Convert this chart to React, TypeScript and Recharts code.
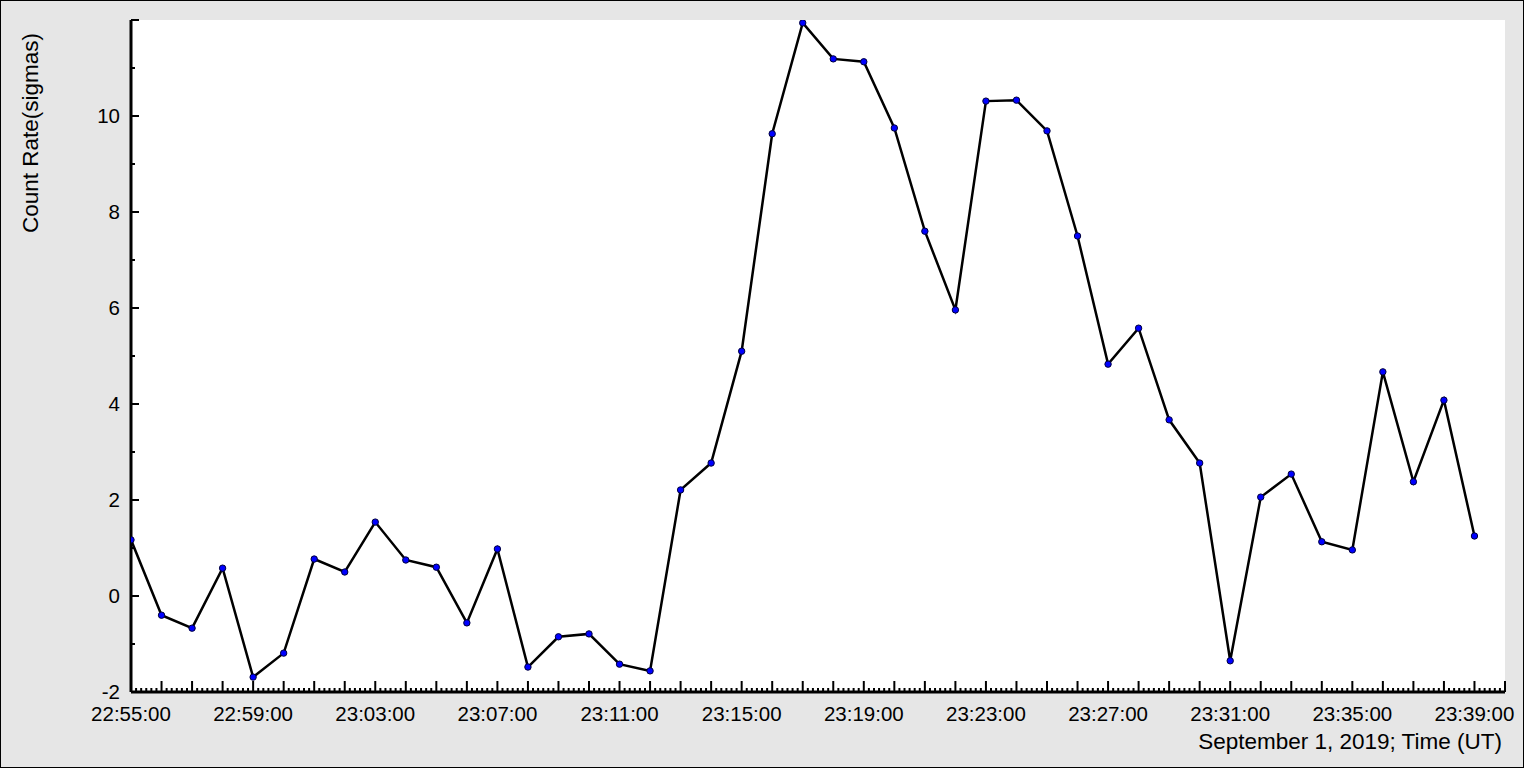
import React from "react";
import { LineChart, Line, XAxis, YAxis, CartesianGrid } from "recharts";

// Sample times (UT) and count-rate values (sigmas)
const times: string[] = [
  "22:55:00", "22:56:00", "22:57:00", "22:58:00", "22:59:00", "23:00:00", "23:01:00", "23:02:00",
  "23:03:00", "23:04:00", "23:05:00", "23:06:00", "23:07:00", "23:08:00", "23:09:00", "23:10:00",
  "23:11:00", "23:12:00", "23:13:00", "23:14:00", "23:15:00", "23:16:00", "23:17:00", "23:18:00",
  "23:19:00", "23:20:00", "23:21:00", "23:22:00", "23:23:00", "23:24:00", "23:25:00", "23:26:00",
  "23:27:00", "23:28:00", "23:29:00", "23:30:00", "23:31:00", "23:32:00", "23:33:00", "23:34:00",
  "23:35:00", "23:36:00", "23:37:00", "23:38:00", "23:39:00",
];

const countRate: number[] = [
  1.17, -0.40, -0.67, 0.58, -1.69, -1.19, 0.77, 0.50,
  1.54, 0.75, 0.60, -0.56, 0.98, -1.48, -0.85, -0.79,
  -1.42, -1.56, 2.21, 2.77, 5.10, 9.63, 11.94, 11.19,
  11.13, 9.75, 7.60, 5.96, 10.31, 10.33, 9.69, 7.50,
  4.83, 5.58, 3.67, 2.77, -1.35, 2.06, 2.54, 1.13,
  0.96, 4.67, 2.38, 4.08, 1.25,
];

const xTickLabels: string[] = [
  "22:55:00", "22:59:00", "23:03:00", "23:07:00", "23:11:00", "23:15:00",
  "23:19:00", "23:23:00", "23:27:00", "23:31:00", "23:35:00", "23:39:00",
];

const yTickLabels: number[] = [-2, 0, 2, 4, 6, 8, 10];

const START = "22:55:00";
const END = "23:40:00";

const toMin = (t: string) => {
  const [h, m, s] = t.split(":").map(Number);
  return h * 60 + m + s / 60;
};
const startMin = toMin(START);
const endMin = toMin(END);
const span = endMin - startMin;

const data = times.map((t, i) => ({ t: toMin(t) - startMin, v: countRate[i] }));

// ticks every 10 seconds
const xTicks: number[] = [];
for (let k = 0; k <= span * 6; k++) xTicks.push(k / 6);
const yTicks: number[] = [];
for (let v = -2; v <= 12; v++) yTicks.push(v);

const labelMap = new Map(xTickLabels.map((l) => [Math.round((toMin(l) - startMin) * 6), l]));
const yLabelSet = new Set(yTickLabels);

const FONT = "'Liberation Sans', Arial, sans-serif";

const XTick = (props: any) => {
  const { x, y, payload } = props;
  const k = Math.round(payload.value * 6);
  const isMinute = k % 6 === 0;
  const len = isMinute ? 11 : 4;
  return (
    <g>
      <line x1={x} x2={x} y1={y} y2={y - len} stroke="#000" strokeWidth={2} />
      {labelMap.has(k) && (
        <text x={x} y={y + 29} textAnchor="middle" fontSize={20.5} fontFamily={FONT} fill="#000">
          {labelMap.get(k)}
        </text>
      )}
    </g>
  );
};

const YTick = (props: any) => {
  const { x, y, payload } = props;
  const v = Math.round(payload.value);
  const isMajor = v % 2 === 0;
  const len = isMajor ? 8 : 4;
  return (
    <g>
      <line x1={x} x2={x + len} y1={y} y2={y} stroke="#000" strokeWidth={2} />
      {yLabelSet.has(v) && (
        <text x={x - 11} y={y + 7} textAnchor="end" fontSize={20.5} fontFamily={FONT} fill="#000">
          {v}
        </text>
      )}
    </g>
  );
};

export default function App() {
  return (
    <div
      style={{
        position: "absolute",
        left: 0,
        top: 0,
        width: 1524,
        height: 768,
        background: "#e6e6e6",
        boxShadow: "inset 0 0 0 1px #000",
        fontFamily: FONT,
      }}
    >
      <LineChart
        width={1524}
        height={768}
        data={data}
        margin={{ top: 20, right: 19, bottom: 0, left: 0 }}
      >
        <CartesianGrid horizontal={false} vertical={false} fill="#ffffff" />
        <XAxis
          dataKey="t"
          type="number"
          domain={[0, span]}
          ticks={xTicks}
          interval={0}
          height={76}
          tickSize={0}
          tickMargin={0}
          tickLine={false}
          tick={XTick}
          axisLine={{ stroke: "#000", strokeWidth: 3 }}
          allowDataOverflow
        />
        <YAxis
          type="number"
          domain={[-2, 12]}
          ticks={yTicks}
          interval={0}
          width={131}
          tickSize={0}
          tickMargin={0}
          tickLine={false}
          tick={YTick}
          axisLine={{ stroke: "#000", strokeWidth: 3 }}
          allowDataOverflow
        />
        <Line
          dataKey="v"
          type="linear"
          stroke="#000"
          strokeWidth={2.5}
          isAnimationActive={false}
          dot={{ r: 3.2, fill: "#0000ff", stroke: "#00003a", strokeWidth: 1 }}
          activeDot={false}
        />
      </LineChart>
      <div
        style={{
          position: "absolute",
          left: 31,
          top: 133,
          transform: "translate(-50%, -50%) rotate(-90deg)",
          whiteSpace: "nowrap",
          fontSize: 22.5,
          lineHeight: "26px",
          color: "#000",
        }}
      >
        Count Rate(sigmas)
      </div>
      <div
        style={{
          position: "absolute",
          right: 22,
          top: 729,
          whiteSpace: "nowrap",
          fontSize: 22.5,
          color: "#000",
          lineHeight: "26px",
        }}
      >
        September 1, 2019; Time (UT)
      </div>
    </div>
  );
}
